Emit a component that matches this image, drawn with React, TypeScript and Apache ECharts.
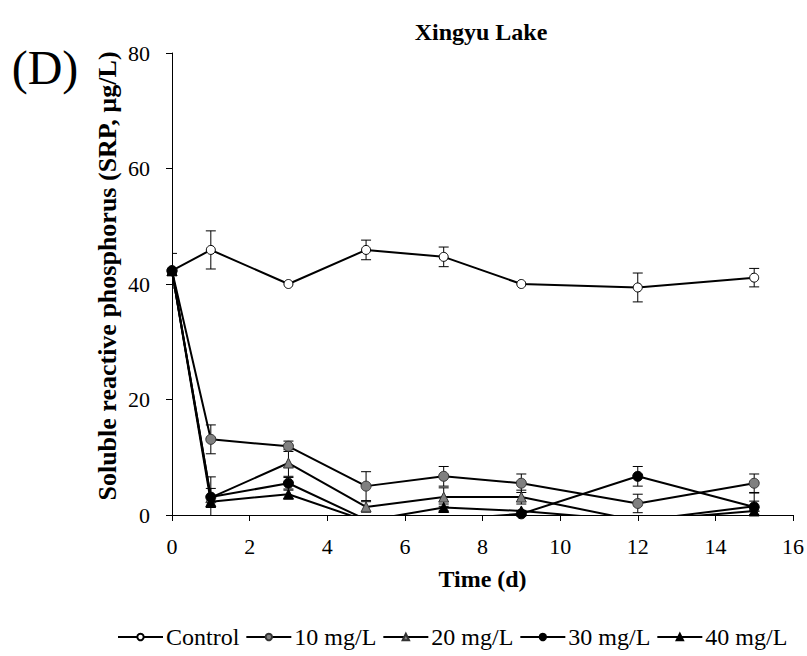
import React, { useEffect, useRef } from 'react';
import * as echarts from 'echarts';

const FONT = 'Liberation Serif';

const days = [0, 1, 3, 5, 7, 9, 12, 15];
const seriesNames = ['Control', '10 mg/L', '20 mg/L', '30 mg/L', '40 mg/L'];
const yAxisTitle = 'Soluble reactive phosphorus (SRP, µg/L)';

const control = [42.3, 45.9, 40.0, 45.9, 44.7, 40.0, 39.4, 41.1];
const controlErr = [3.0, 3.3, 0, 1.7, 1.7, 0, 2.5, 1.6];
const mg10 = [42.3, 13.1, 11.9, 5.0, 6.7, 5.5, 2.0, 5.5];
const mg10Err = [0, 2.5, 0.9, 2.5, 1.7, 1.6, 1.6, 1.6];
const mg20 = [42.3, 3.0, 9.0, 1.4, 3.1, 3.1, -1.0, 1.5];
const mg20Err = [0, 1.6, 2.3, 0.9, 1.6, 1.2, 0, 0.9];
const mg30 = [42.3, 3.1, 5.5, -0.8, -0.8, 0.2, 6.7, 1.4];
const mg30Err = [0, 3.5, 1.0, 0, 0, 0.6, 1.7, 2.4];
const mg40 = [42.3, 2.3, 3.6, -1.0, 1.3, 0.7, -1.0, 0.7];
const mg40Err = [0, 1.0, 0.7, 0, 0.6, 0, 0, 0.6];

const allValues = [control, mg10, mg20, mg30, mg40];
const allErrors = [controlErr, mg10Err, mg20Err, mg30Err, mg40Err];

const symbols = ['circle', 'circle', 'triangle', 'circle', 'triangle'];
const fills = ['#ffffff', '#808080', '#808080', '#000000', '#000000'];
const borders = ['#000000', '#333333', '#333333', '#000000', '#000000'];

export default function App() {
  const ref = useRef<HTMLDivElement>(null);
  useEffect(() => {
    if (!ref.current) return;
    const chart = echarts.init(ref.current, null, { renderer: 'svg' });

    const errData: number[][] = [];
    allValues.forEach((vals, si) => {
      vals.forEach((v, i) => {
        const e = allErrors[si][i];
        if (e > 0) errData.push([days[i], v - e, v + e]);
      });
    });

    const lineSeries = seriesNames.map((name, si) => ({
      name,
      type: 'line',
      data: days.map((d, i) => [d, allValues[si][i]]),
      symbol: symbols[si],
      symbolSize: si === 0 ? 9 : 10,
      showAllSymbol: true,
      clip: true,
      z: 3 + si,
      lineStyle: { color: '#000', width: 2 },
      itemStyle: { color: fills[si], borderColor: borders[si], borderWidth: 1 },
      emphasis: { disabled: true },
    }));

    chart.setOption({
      animation: false,
      textStyle: { fontFamily: FONT },
      grid: { left: 172, right: 13, top: 53, bottom: 141 },
      graphic: [
        {
          type: 'text',
          x: 481,
          y: 32,
          style: {
            text: 'Xingyu Lake',
            fontSize: 24,
            fontWeight: 'bold',
            fontFamily: FONT,
            fill: '#000',
            textAlign: 'center',
            textVerticalAlign: 'middle',
            align: 'center',
            verticalAlign: 'middle',
          },
        },
        {
          type: 'text',
          x: 45,
          y: 67,
          style: {
            text: '(D)',
            fontSize: 48,
            fontFamily: FONT,
            fill: '#000',
            textAlign: 'center',
            textVerticalAlign: 'middle',
            align: 'center',
            verticalAlign: 'middle',
          },
        },
        {
          type: 'text',
          x: 107,
          y: 276,
          rotation: Math.PI / 2,
          style: {
            text: yAxisTitle,
            fontSize: 26,
            fontWeight: 'bold',
            fontFamily: FONT,
            fill: '#000',
            textAlign: 'center',
            textVerticalAlign: 'middle',
            align: 'center',
            verticalAlign: 'middle',
          },
        },
      ],
      legend: {
        data: seriesNames,
        left: 112,
        top: 620,
        itemWidth: 45,
        itemHeight: 8,
        itemGap: 6,
        textStyle: { fontSize: 24, fontFamily: FONT, color: '#000', padding: [0, 0, 0, -2] },
      },
      xAxis: {
        type: 'value',
        min: 0,
        max: 16,
        interval: 2,
        name: 'Time (d)',
        nameLocation: 'middle',
        nameGap: 52,
        nameTextStyle: { fontSize: 24, fontWeight: 'bold', fontFamily: FONT, color: '#000' },
        axisLine: { show: true, lineStyle: { color: '#000', width: 1 } },
        axisTick: { show: true, length: 6, lineStyle: { color: '#000' } },
        axisLabel: { fontSize: 22, fontFamily: FONT, color: '#000', margin: 20 },
        splitLine: { show: false },
      },
      yAxis: {
        type: 'value',
        min: 0,
        max: 80,
        interval: 20,
        axisLine: { show: true, lineStyle: { color: '#000', width: 1 } },
        axisTick: { show: true, length: 6, lineStyle: { color: '#000' } },
        axisLabel: { fontSize: 22, fontFamily: FONT, color: '#000', margin: 22 },
        splitLine: { show: false },
      },
      series: [
        {
          name: 'err',
          type: 'custom',
          z: 2,
          clip: true,
          data: errData,
          encode: { x: 0, y: [1, 2] },
          renderItem: (params: any, api: any) => {
            const x = api.value(0);
            const lo = api.coord([x, api.value(1)]);
            const hi = api.coord([x, api.value(2)]);
            const hw = 5;
            const st = { stroke: '#000', lineWidth: 1 };
            return {
              type: 'group',
              children: [
                { type: 'line', shape: { x1: hi[0], y1: hi[1], x2: lo[0], y2: lo[1] }, style: st },
                { type: 'line', shape: { x1: hi[0] - hw, y1: hi[1], x2: hi[0] + hw, y2: hi[1] }, style: st },
                { type: 'line', shape: { x1: lo[0] - hw, y1: lo[1], x2: lo[0] + hw, y2: lo[1] }, style: st },
              ],
            };
          },
        },
        ...lineSeries,
      ],
    });
    return () => chart.dispose();
  }, []);
  return (
    <div
      ref={ref}
      style={{ position: 'fixed', left: 0, top: 0, width: 807, height: 656, background: '#fff' }}
    />
  );
}
